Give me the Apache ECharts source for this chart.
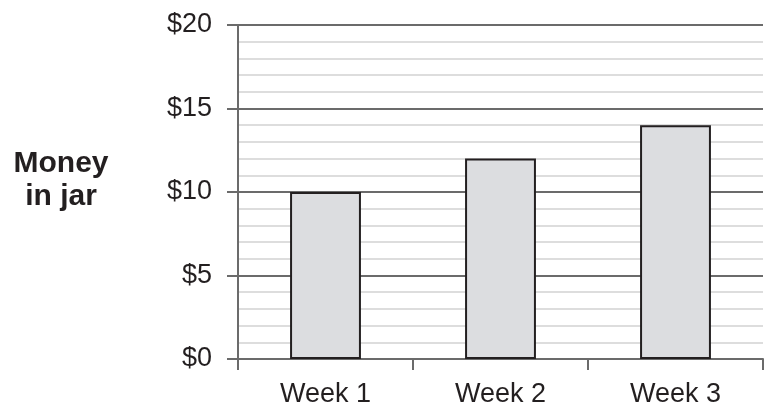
<!DOCTYPE html>
<html>
<head>
<meta charset="utf-8">
<script src="https://cdn.jsdelivr.net/npm/echarts@6/dist/echarts.min.js"></script>
<style>
  html, body { margin: 0; padding: 0; background: #fff; }
  #chart { width: 764px; height: 410px; }
</style>
</head>
<body>
<div id="chart"></div>
<script>
const categories = ['Week 1', 'Week 2', 'Week 3']
const money = [10, 12, 14]
const yTicks = [0, 5, 10, 15, 20]

const myChart = echarts.init(document.getElementById('chart'))
myChart.setOption({
  animation: false,
  textStyle: { fontFamily: 'Liberation Sans, Arial, sans-serif' },
  grid: { left: 238, right: 1, top: 25, bottom: 51 },
  graphic: [{
    type: 'text',
    x: 61,
    y: 147,
    style: {
      text: 'Money\nin jar',
      font: 'bold 30px "Liberation Sans", Arial, sans-serif',
      fill: '#231f20',
      align: 'center',
      verticalAlign: 'top',
      lineHeight: 33
    }
  }],
  xAxis: {
    type: 'category',
    data: categories,
    axisLine: { lineStyle: { color: '#6b6b6b', width: 2 } },
    axisTick: { show: true, length: 11, lineStyle: { color: '#6b6b6b', width: 2 } },
    axisLabel: { color: '#231f20', fontSize: 27, margin: 22 }
  },
  yAxis: {
    type: 'value',
    min: yTicks[0],
    max: yTicks[yTicks.length - 1],
    interval: 5,
    axisLine: { show: true, lineStyle: { color: '#6b6b6b', width: 2 } },
    axisTick: { show: true, length: 11, lineStyle: { color: '#6b6b6b', width: 2 } },
    axisLabel: { color: '#231f20', fontSize: 27, margin: 26, formatter: '${value}' },
    splitLine: { show: true, lineStyle: { color: '#6b6b6b', width: 2 } },
    minorTick: { show: false, splitNumber: 5 },
    minorSplitLine: { show: true, lineStyle: { color: '#d2d2d2', width: 1.5 } }
  },
  series: [{
    type: 'bar',
    data: money,
    barWidth: '40.5%',
    itemStyle: { color: '#dcdde0', borderColor: '#231f20', borderWidth: 2 }
  }]
})
</script>
</body>
</html>
